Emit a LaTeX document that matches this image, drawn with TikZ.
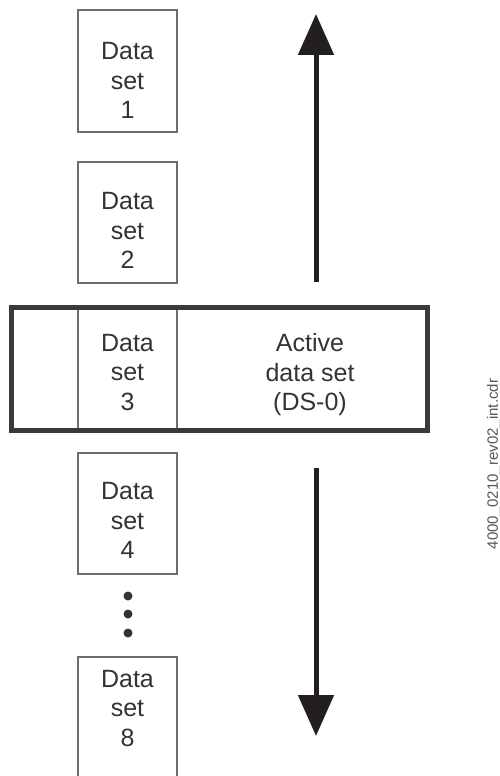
\documentclass[tikz,border=0pt]{standalone}
\usepackage{fontspec}
\setmainfont{Liberation Sans}
\usetikzlibrary{arrows.meta}
\definecolor{boxgray}{HTML}{6E6E6E}
\definecolor{framegray}{HTML}{3A3A3A}
\definecolor{txtgray}{HTML}{333333}
\definecolor{arrowblk}{HTML}{231F20}
\definecolor{notegray}{HTML}{555555}
\begin{document}
\begin{tikzpicture}[x=1pt,y=-1pt,
  dsbox/.style={draw=boxgray, line width=1.2pt, minimum width=99pt, inner sep=0pt},
  dstext/.style={text=txtgray, font=\fontsize{25}{29.5}\selectfont, align=center, inner sep=0pt, text depth=0pt},
  frame/.style={draw=framegray, line width=5pt, minimum width=415.5pt, minimum height=123pt, inner sep=0pt},
  bigarrow/.style={draw=arrowblk, line width=5pt, -{Triangle[length=41pt,width=35pt]}},
  dotmark/.style={circle, fill=txtgray, minimum size=9pt, inner sep=0pt},
  note/.style={rotate=90, text=notegray, font=\fontsize{15}{17}\selectfont, inner sep=0pt}]
\useasboundingbox (0,0) rectangle (500,776);

% boxes
\node[dsbox, minimum height=122pt] (b1) at (127.5,71) {};
\node[dsbox, minimum height=121pt] (b2) at (127.5,222.5) {};
\node[dsbox, minimum height=123pt] (b3) at (127.5,369) {};
\node[dsbox, minimum height=121pt] (b4) at (127.5,513.5) {};
\node[dsbox, minimum height=123pt] (b8) at (127.5,718.5) {};
\node[frame] (active) at (219.25,369) {};

% texts
\node[dstext] (t1) at (127.5,80.5) {Data\\set\\1};
\node[dstext] (t2) at (127.5,230.5) {Data\\set\\2};
\node[dstext] (t3) at (127.5,372) {Data\\set\\3};
\node[dstext] (ta) at (310,372) {Active\\data set\\(DS-0)};
\node[dstext] (t4) at (127.5,520.5) {Data\\set\\4};
\node[dstext] (t8) at (127.5,708) {Data\\set\\8};

% dots
\node[dotmark] (d1) at (128,596) {};
\node[dotmark] (d2) at (128,614) {};
\node[dotmark] (d3) at (128,633) {};

% arrows
\coordinate (upstart) at (316,282);
\coordinate (uptip) at (316,14);
\coordinate (downstart) at (316,468);
\coordinate (downtip) at (316,736);
\draw[bigarrow] (upstart) -- (uptip);
\draw[bigarrow] (downstart) -- (downtip);

% file note
\node[note] (fname) at (494,464) {4000\_0210\_rev02\_int.cdr};
\end{tikzpicture}
\end{document}
